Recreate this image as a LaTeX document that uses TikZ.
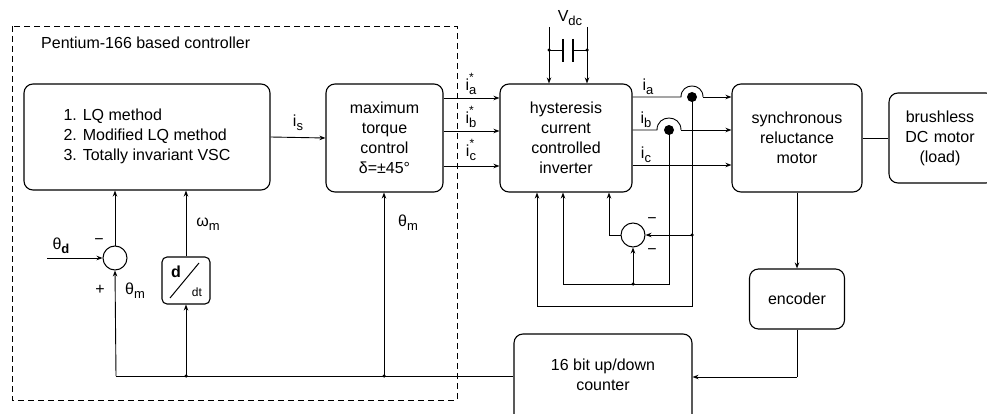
\documentclass[tikz,border=0pt]{standalone}
\usepackage{fontspec}
\setmainfont{Liberation Sans}
\usetikzlibrary{arrows.meta,calc}
\newcommand\sbx[1]{\raisebox{-4pt}{\fontsize{13}{13}\selectfont #1}}
\newcommand\sbsp[1]{\rlap{\raisebox{9pt}{\fontsize{12}{12}\selectfont *}}\raisebox{-4pt}{\fontsize{13}{13}\selectfont #1}}
\tikzset{
  blk/.style={draw, line width=1.1pt, rounded corners=9pt, align=center, inner sep=0pt, font=\fontsize{16}{20}\selectfont},
  lbl/.style={font=\fontsize{16}{19}\selectfont, inner sep=0pt},
  wire/.style={line width=0.9pt},
  arr/.style={-{Stealth[length=6pt,width=4.5pt]}, line width=0.9pt},
  jdot/.style={circle, fill, inner sep=0pt, minimum size=3.5pt},
  sumj/.style={circle, draw, line width=1pt, minimum size=24pt, inner sep=0pt},
}
\begin{document}
\begin{tikzpicture}[x=1pt,y=-1pt]
\useasboundingbox (0,0) rectangle (987,414);
\clip (0,0) rectangle (987,414);
\fill[white] (0,0) rectangle (987,414);

% dashed controller frame
\draw[line width=0.9pt, dash pattern=on 6pt off 4pt] (12,26) rectangle (457,400);
\node[lbl, anchor=west] (title) at (41,43) {Pentium-166 based controller};

% blocks
\node[blk, minimum width=246pt, minimum height=106pt] (LQ) at (147,137) {};
\node[lbl, align=left, font=\fontsize{16}{20}\selectfont] (LQt) at (147,136) {1. LQ method\\2. Modified LQ method\\3. Totally invariant VSC};
\node[blk, minimum width=117pt, minimum height=108pt] (MT) at (384.5,138) {maximum\\torque\\control\\δ=±45°};
\node[blk, minimum width=132pt, minimum height=108pt] (INV) at (566,138) {hysteresis\\current\\controlled\\inverter};
\node[blk, minimum width=130pt, minimum height=108pt] (SRM) at (797,138) {synchronous\\reluctance\\motor};
\node[blk, minimum width=106pt, minimum height=90pt, text width=106pt] (BL) at (942,138) {\hspace*{-4pt}brushless\\\hspace*{-4pt}DC motor\\\hspace*{-4pt}(load)};
\node[blk, minimum width=95pt, minimum height=60pt] (ENC) at (797,299) {encoder};
\node[blk, minimum width=178pt, minimum height=92pt] (CNT) at (603,380) {};
\node[lbl, align=center, font=\fontsize{16}{20}\selectfont] (CNTt) at (603,375) {16 bit up/down\\counter};
\node[blk, minimum width=48pt, minimum height=47pt, rounded corners=5pt] (DDT) at (186,280.5) {};
\node[inner sep=0pt, font=\fontsize{16}{16}\selectfont\bfseries] (dd) at (176,272) {d};
\node[inner sep=0pt, font=\fontsize{12}{12}\selectfont] (ddt) at (197,292) {dt};
\draw[line width=1pt] (170,298) -- (199,263);

% summing junctions
\node[sumj] (S1) at (115,258) {};
\node[sumj] (S2) at (633,235) {};

% controller internal connections
\draw[arr] (LQ.east) -- (MT.west);
\node[lbl] (lis) at (298,123) {i\sbx{s}};

\coordinate (cA) at (116,376);
\coordinate (jB) at (186,376);
\coordinate (jA) at (384,376);
\coordinate (td) at (47,258);
\draw[wire] (CNT.west |- cA) -- (cA);
\draw[arr] (cA) -- (S1.south);
\draw[arr] (jB) -- (DDT.south);
\draw[arr] (jA) -- (jA |- MT.south);
\draw[arr] (DDT.north) -- (DDT.north |- LQ.south);
\draw[arr] (S1.north) -- (S1.north |- LQ.south);
\draw[arr] (td) -- (S1.west);
\node[jdot] (dB) at (jB) {};
\node[jdot] (dA) at (jA) {};

\node[lbl] (ltd) at (61,246) {θ\sbx{\bfseries d}};
\node[lbl] (lm1) at (99,242) {−};
\node[lbl] (lp1) at (100,290) {+};
\node[lbl] (ltm1) at (135,291) {θ\sbx{m}};
\node[lbl] (lwm) at (208,224) {ω\sbx{m}};
\node[lbl] (ltm2) at (408,223) {θ\sbx{m}};

% reference currents
\draw[arr] (MT.east |- 0,98) -- (INV.west |- 0,98);
\draw[arr] (MT.east |- 0,131) -- (INV.west |- 0,131);
\draw[arr] (MT.east |- 0,166) -- (INV.west |- 0,166);
\node[lbl] (lia) at (471,84) {i\sbsp{a}};
\node[lbl] (lib) at (471,117) {i\sbsp{b}};
\node[lbl] (lic) at (471,150) {i\sbsp{c}};

% DC link
\coordinate (v1t) at (549,27);
\coordinate (v2t) at (587,27);
\coordinate (v1d) at (549,50);
\coordinate (v2d) at (587,50);
\draw[arr] (v1t) -- (v1t |- INV.north);
\draw[arr] (v2t) -- (v2t |- INV.north);
\draw[wire] (v1d) -- (563,50);
\draw[wire] (573,50) -- (v2d);
\draw[line width=1.3pt] (563,39) -- (563,62);
\draw[line width=1.3pt] (573,39) -- (573,62);
\node[jdot] (dv1) at (v1d) {};
\node[jdot] (dv2) at (v2d) {};
\node[lbl] (lvdc) at (570,18) {V\sbx{dc}};

% phase currents
\coordinate (ia) at (692,97);
\coordinate (ib) at (669,130);
\draw[wire] (INV.east |- ia) -- (681,97) .. controls (681,82.3) and (703,82.3) .. (703,97);
\draw[arr] (703,97) -- (SRM.west |- ia);
\draw[wire] (INV.east |- ib) -- (657,130) .. controls (657,114) and (681,114) .. (681,130);
\draw[arr] (681,130) -- (SRM.west |- ib);
\draw[arr] (INV.east |- 0,165) -- (SRM.west |- 0,165);
\node[lbl] (lOa) at (648,87) {i\sbx{a}};
\node[lbl] (lOb) at (646,120) {i\sbx{b}};
\node[lbl] (lOc) at (646,155) {i\sbx{c}};

% current feedback
\coordinate (fa) at (692,306);
\coordinate (fb) at (669,284);
\coordinate (f1) at (537,306);
\coordinate (f2) at (563,284);
\coordinate (ja) at (692,235);
\coordinate (jb) at (633,284);
\coordinate (f3) at (609,235);
\draw[wire] (ia) -- (fa) -- (f1);
\draw[arr] (f1) -- (f1 |- INV.south);
\draw[wire] (ib) -- (fb) -- (f2);
\draw[arr] (f2) -- (f2 |- INV.south);
\draw[arr] (ja) -- (S2.east);
\draw[arr] (jb) -- (S2.south);
\draw[wire] (S2.west) -- (f3);
\draw[arr] (f3) -- (f3 |- INV.south);
\fill (ia) circle[radius=5pt];
\fill (ib) circle[radius=5pt];
\node[jdot] (dja) at (ja) {};
\node[jdot] (djb) at (jb) {};
\node[lbl] (lm2) at (652,221) {−};
\node[lbl] (lm3) at (652,252) {−};

% motor, encoder, counter
\draw[wire] (SRM.east) -- (BL.west);
\draw[arr] (SRM.south) -- (ENC.north);
\coordinate (ce) at (797,377);
\draw[wire] (ENC.south) -- (ce);
\draw[arr] (ce) -- (CNT.east |- ce);
\end{tikzpicture}
\end{document}
